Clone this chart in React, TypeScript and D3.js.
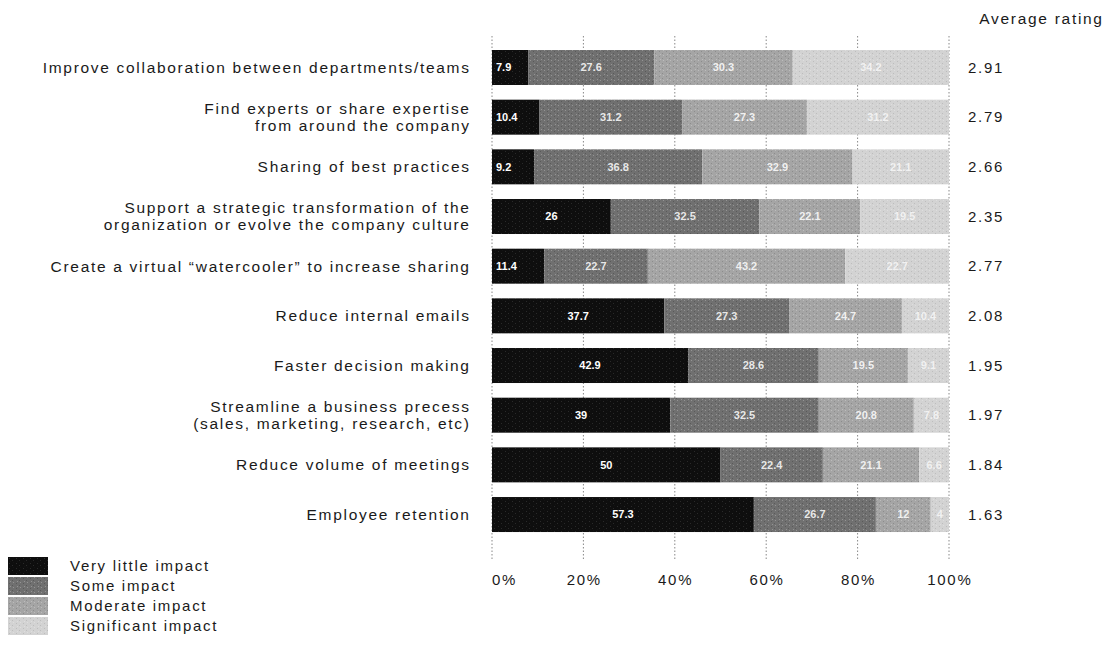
import React from "react";
import * as d3 from "d3";

const categories: string[][] = [
  ["Improve collaboration between departments/teams"],
  ["Find experts or share expertise ", "from around the company"],
  ["Sharing of best practices"],
  ["Support a strategic transformation of the", "organization or evolve the company culture"],
  ["Create a virtual \u201cwatercooler\u201d to increase sharing"],
  ["Reduce internal emails"],
  ["Faster decision making"],
  ["Streamline a business precess", "(sales, marketing, research, etc)"],
  ["Reduce volume of meetings"],
  ["Employee retention"],
];

const seriesNames = ["Very little impact", "Some impact", "Moderate impact", "Significant impact"];
const veryLittle = [7.9, 10.4, 9.2, 26, 11.4, 37.7, 42.9, 39, 50, 57.3];
const someImpact = [27.6, 31.2, 36.8, 32.5, 22.7, 27.3, 28.6, 32.5, 22.4, 26.7];
const moderate = [30.3, 27.3, 32.9, 22.1, 43.2, 24.7, 19.5, 20.8, 21.1, 12];
const significant = [34.2, 31.2, 21.1, 19.5, 22.7, 10.4, 9.1, 7.8, 6.6, 4];
const ratings = ["2.91", "2.79", "2.66", "2.35", "2.77", "2.08", "1.95", "1.97", "1.84", "1.63"];
const ticks = [0, 20, 40, 60, 80, 100];

const colors = ["#0e0e0e", "#707070", "#a5a5a5", "#d3d3d3"];
const textures = ["#2a2a2a", "#5a5a5a", "#8c8c8c", "#bdbdbd"];
const font = "'Liberation Sans', Arial, Helvetica, sans-serif";
const LS = 1.7;
const FS = 15.5;

export default function App() {
  const W = 1104, H = 660;
  const x = d3.scaleLinear().domain([0, 100]).range([492, 949]);
  const ids = categories.map((_, i) => String(i));
  const step = 49.67;
  const gap = 14.67;
  const y = d3
    .scaleBand()
    .domain(ids)
    .range([50 - gap / 2, 50 - gap / 2 + step * ids.length])
    .paddingInner(gap / step)
    .paddingOuter(gap / step / 2);
  const series = [veryLittle, someImpact, moderate, significant];
  const rows = ids.map((id, i) => {
    let acc = 0;
    return series.map((s, k) => {
      const v = s[i];
      const seg = { k, x0: acc, x1: Math.min(100, acc + v), v };
      acc += v;
      return seg;
    });
  });

  return (
    <svg width={W} height={H} style={{ position: "absolute", left: 0, top: 0, background: "#fff" }} fontFamily={font}>
      <defs>
        {colors.map((c, k) => (
          <pattern key={k} id={"tex" + k} width="7" height="5" patternUnits="userSpaceOnUse">
            <rect width="7" height="5" fill={c} />
            <rect x="1" y="1" width="1" height="1" fill={textures[k]} />
            <rect x="4" y="3" width="1" height="1" fill={textures[k]} />
            <rect x="5" y="0" width="1" height="1" fill={k === 0 ? "#222" : "#fff"} opacity={0.25} />
            <rect x="2" y="4" width="1" height="1" fill={k === 0 ? "#222" : "#fff"} opacity={0.25} />
          </pattern>
        ))}
      </defs>
      {/* gridlines */}
      {ticks.map((t) => (
        <line key={t} x1={x(t)} x2={x(t)} y1={36} y2={560} stroke="#888" strokeWidth={1} strokeDasharray="1.5,2" />
      ))}
      {/* bars */}
      {rows.map((segs, i) => (
        <g key={i}>
          {segs.map((s) => (
            <rect key={s.k} x={x(s.x0)} y={y(ids[i])!} width={x(s.x1) - x(s.x0)} height={y.bandwidth()} fill={`url(#tex${s.k})`} />
          ))}
          {segs.map((s) => (
            <text
              key={"t" + s.k}
              x={s.k === 0 && s.v < 15 ? x(s.x0) + 4 : (x(s.x0) + x(s.x1)) / 2}
              y={y(ids[i])! + y.bandwidth() / 2}
              dy="0.35em"
              textAnchor={s.k === 0 && s.v < 15 ? "start" : "middle"}
              fontSize={11}
              fontWeight="bold"
              fill="#fff"
              fillOpacity={s.k === 0 ? 1 : s.k === 3 ? 0.7 : 0.85}
            >
              {s.v}
            </text>
          ))}
        </g>
      ))}
      {/* category labels */}
      {categories.map((lines, i) => {
        const cy = y(ids[i])! + y.bandwidth() / 2;
        const start = cy - ((lines.length - 1) * 17) / 2;
        return (
          <text key={i} textAnchor="end" fontSize={FS} fill="#1a1a1a" letterSpacing={LS}>
            {lines.map((l, j) => (
              <tspan key={j} x={469 + LS} y={start + j * 17} dy="0.35em">
                {l.trim()}
              </tspan>
            ))}
          </text>
        );
      })}
      {/* ratings */}
      <text x={1102 + LS} y={19} dy="0.35em" textAnchor="end" fontSize={FS} fill="#1a1a1a" letterSpacing={LS}>
        Average rating
      </text>
      {ratings.map((r, i) => (
        <text key={i} x={968} y={y(ids[i])! + y.bandwidth() / 2} dy="0.35em" fontSize={15} fill="#1a1a1a" letterSpacing={LS}>
          {r}
        </text>
      ))}
      {/* x tick labels */}
      {ticks.map((t) => (
        <text
          key={t}
          x={t === 0 ? x(t) : x(t) + LS / 2}
          y={580}
          dy="0.35em"
          textAnchor={t === 0 ? "start" : "middle"}
          fontSize={15}
          fill="#1a1a1a"
          letterSpacing={LS}
        >
          {t}%
        </text>
      ))}
      {/* legend */}
      {seriesNames.map((n, i) => (
        <g key={n} transform={`translate(8, ${557 + i * 20})`}>
          <rect width={40} height={18} fill={`url(#tex${i})`} />
          <text x={62} y={9} dy="0.35em" fontSize={15} fill="#1a1a1a" letterSpacing={LS}>
            {n}
          </text>
        </g>
      ))}
    </svg>
  );
}
